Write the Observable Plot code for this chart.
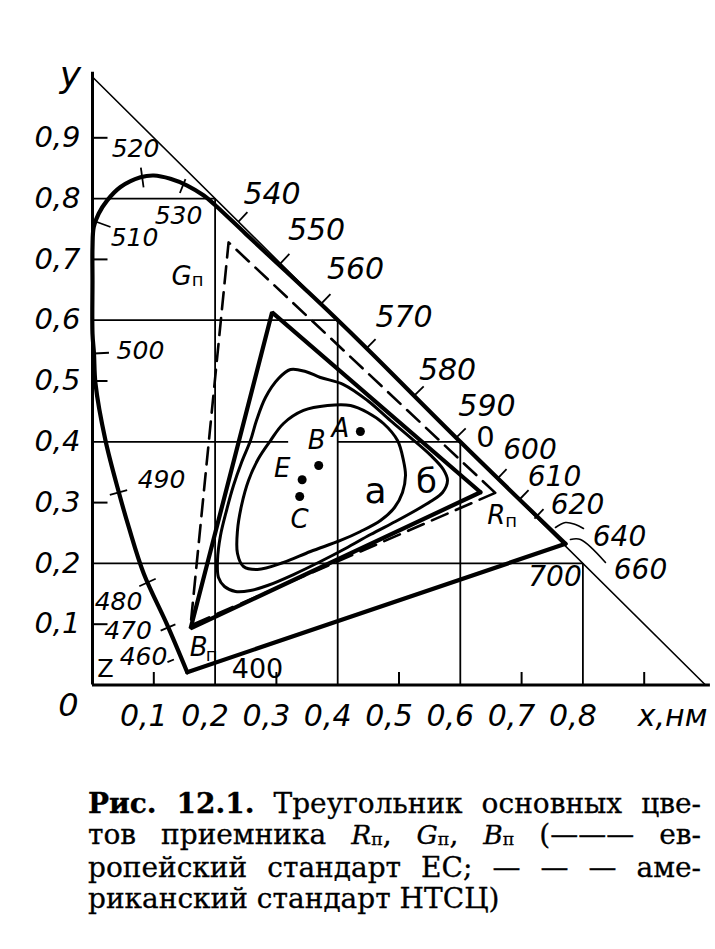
<!DOCTYPE html>
<html>
<head>
<meta charset="utf-8">
<script src="https://cdn.jsdelivr.net/npm/d3@7"></script>
<script src="https://cdn.jsdelivr.net/npm/@observablehq/plot@0.6"></script>
<style>
  html, body { margin: 0; padding: 0; background: #fff; }
  body { width: 715px; height: 949px; position: relative; overflow: hidden; }
  #chart { position: absolute; left: 0; top: 0; }
  #chart svg { display: block; }
  #caption {
    position: absolute; left: 88px; top: 789px; width: 613px;
    font-family: "DejaVu Serif", "Liberation Serif", serif;
    font-size: 28px; line-height: 30.5px; color: #000;
    -webkit-text-stroke: 0.3px #000;
  }
  #caption .ln { text-align: justify; text-align-last: justify; }
  #caption .last { text-align-last: left; }
  #caption .sb { font-size: 0.62em; position: relative; top: 0.08em; }
  #caption i { font-size: 0.95em; }
</style>
</head>
<body>
<div id="chart"></div>
<div id="caption">
  <div class="ln"><b>Рис. 12.1.</b> Треугольник основных цве-</div>
  <div class="ln">тов приемника <i>R</i><span class="sb">п</span>, <i>G</i><span class="sb">п</span>, <i>B</i><span class="sb">п</span> (——— ев-</div>
  <div class="ln">ропейский стандарт ЕС; — — — аме-</div>
  <div class="ln last">риканский стандарт НТСЦ)</div>
</div>
<script>
// ---------------- DATA (chromaticity coordinates) ----------------
const spectralLocus = [
  {x:0.1545,y:0.021},{x:0.1222,y:0.098},{x:0.0837,y:0.1829},{x:0.0592,y:0.2595},
  {x:0.0429,y:0.3171},{x:0.0212,y:0.4021},{x:0.0049,y:0.4954},{x:0.0024,y:0.5452},
  {x:0.0,y:0.578},{x:0.0,y:0.665},{x:0.0,y:0.72},{x:0.002,y:0.753},{x:0.010,y:0.775},
  {x:0.024,y:0.797},{x:0.0457,y:0.819},{x:0.0783,y:0.835},{x:0.100,y:0.838},
  {x:0.127,y:0.8326},{x:0.1545,y:0.8215},{x:0.1816,y:0.805},{x:0.2007,y:0.7887},
  {x:0.25,y:0.742},{x:0.30,y:0.695},{x:0.35,y:0.648},{x:0.394,y:0.606},
  {x:0.45,y:0.551},{x:0.60,y:0.40},{x:0.7716,y:0.2322}
];
// wavelength marks (nm) on the locus / on the x+y=1 line
const wavelengths = [
  {nm:460,x:0.1403,y:0.0452},{nm:470,x:0.1232,y:0.0946},{nm:480,x:0.0897,y:0.1686},
  {nm:490,x:0.0424,y:0.3166},{nm:500,x:0.0024,y:0.5452},{nm:510,x:0.0049,y:0.7623},
  {nm:520,x:0.0811,y:0.8347},{nm:530,x:0.1468,y:0.8199},{nm:540,x:0.2382,y:0.7623},
  {nm:550,x:0.3067,y:0.6933},{nm:560,x:0.3736,y:0.6275},{nm:570,x:0.4470,y:0.5535},
  {nm:580,x:0.5253,y:0.4762},{nm:590,x:0.5938,y:0.4071},{nm:600,x:0.6607,y:0.3396},
  {nm:610,x:0.6966,y:0.3051},{nm:620,x:0.7210,y:0.2738},{nm:640,x:0.7520,y:0.2475},
  {nm:660,x:0.7732,y:0.2344},{nm:700,x:0.7716,y:0.2322}
];
const ecPrimaries   = [{name:"R",x:0.633,y:0.317},{name:"G",x:0.293,y:0.613},{name:"B",x:0.160,y:0.093}];
const ntscPrimaries = [{name:"R",x:0.657,y:0.316},{name:"G",x:0.222,y:0.728},{name:"B",x:0.160,y:0.098}];
const illuminants = [
  {name:"A",x:0.437,y:0.417},{name:"B",x:0.369,y:0.361},
  {name:"E",x:0.342,y:0.3375},{name:"C",x:0.338,y:0.310}
];
const contourA = [
  [0.2904,0.4021],[0.3116,0.4301],[0.3442,0.4515],[0.3834,0.4597],[0.4209,0.4597],[0.4486,0.4482],
  [0.4747,0.4301],[0.4976,0.4021],[0.5073,0.3692],[0.5106,0.3446],[0.5057,0.3166],[0.4927,0.2919],
  [0.4698,0.2706],[0.4372,0.2525],[0.4046,0.2377],[0.3556,0.2196],[0.3116,0.2015],[0.2692,0.1900],
  [0.2463,0.1949],[0.2365,0.2163],[0.2365,0.2541],[0.2431,0.2952],[0.2545,0.3363],[0.2708,0.3725]
];
const contourB = [
  [0.2577,0.4021],[0.2675,0.4350],[0.2822,0.4729],[0.3034,0.5041],[0.3230,0.5189],[0.3475,0.5156],
  [0.3719,0.5058],[0.4095,0.4942],[0.4486,0.4680],[0.4861,0.4350],[0.5187,0.4070],[0.5514,0.3780],
  [0.5726,0.3540],[0.5791,0.3363],[0.5710,0.3166],[0.5514,0.3018],[0.5269,0.2870],[0.4943,0.2689],
  [0.4535,0.2475],[0.4127,0.2245],[0.3719,0.2031],[0.3279,0.1817],[0.2855,0.1636],[0.2577,0.1554],
  [0.2333,0.1538],[0.2153,0.1620],[0.2055,0.1768],[0.2039,0.2048],[0.2088,0.2459],[0.2186,0.2870],
  [0.2300,0.3281],[0.2431,0.3660]
];
const unitDiagonal = [{x:0,y:1},{x:1,y:0}];          // x + y = 1
const gridLevels = [0.2, 0.4, 0.6, 0.8];
const minorTicks = [0.1, 0.3, 0.5, 0.7, 0.9];
const yTickLabels = [0.1,0.2,0.3,0.4,0.5,0.6,0.7,0.8,0.9];
const xTickLabels = [0.1,0.2,0.3,0.4,0.5,0.6,0.7,0.8];
const annotations = [
  {text:"400", x:0.2692, y:0.0263, size:27},
  {text:"Z",   x:0.0212, y:0.0255, size:24, upright:true},
  {text:"0",   x:0.6411, y:0.4062, size:29},
  {text:"а",   x:0.4617, y:0.3183, size:36},
  {text:"б",   x:0.5449, y:0.3331, size:34}
];

// ---------------- LAYOUT / STYLE ----------------
const PX = {x0:92, x1:705, y0:684.5, y1:76.5};
const kx = PX.x1 - PX.x0, ky = PX.y0 - PX.y1;
const sx = v => PX.x0 + v*kx, sy = v => PX.y0 - v*ky;
const ox = p => p / kx, oy = p => -p / ky;   // pixel offset -> data offset
const FONT = "DejaVu Sans, sans-serif";

// label centre offsets (px) from wavelength point; tick reach (px) along outward normal
const labelOffset = {
  460:[-35,-1],470:[-40,4],480:[-29,19.5],490:[43,-12.5],500:[46.5,-2.5],510:[39,16.5],
  520:[-6.7,-28.5],530:[-4,29],540:[33.5,-27.5],550:[36,-33],560:[34,-34.5],570:[37.5,-31.5],
  580:[33,-25],590:[30.5,-31.5],600:[32.5,-28.5],610:[35,-22.5],620:[43,-13],640:[66,2.5],
  660:[74,28],700:[-10.5,33]
};
const labelSize = nm => nm < 540 ? 25 : nm < 600 ? 30 : 28;
const tickReach = {
  460:[5,12],470:[-8,8],480:[-9,9],490:[-9,9],500:[-15,0],510:[-16,0],520:[-10,10],530:[-7,8],
  540:[0,13],550:[0,13],560:[0,13],570:[0,13],580:[0,13],590:[0,13],600:[0,13],610:[0,13],620:[0,13]
};
const leaderPath = { 640:[[2,-7],[12,-12],[22,-10],[30,-6]], 660:[[4,-3],[14,-3],[39,20]] };
const hGap = {0.4:[0.32,0.40]};

const whitePt = illuminants.find(d => d.name === "E");
function outwardNormal(pt){
  let best = null, bd = Infinity;
  const px = sx(pt.x), py = sy(pt.y);
  for (let i = 0; i < spectralLocus.length - 1; i++){
    const a = spectralLocus[i], b = spectralLocus[i+1];
    const ax = sx(a.x), ay = sy(a.y), vx = sx(b.x)-ax, vy = sy(b.y)-ay;
    let t = ((px-ax)*vx + (py-ay)*vy) / (vx*vx + vy*vy);
    t = Math.max(0, Math.min(1, t));
    const d = (px-ax-t*vx)**2 + (py-ay-t*vy)**2;
    if (d < bd){ bd = d; best = [vx, vy]; }
  }
  const L = Math.hypot(best[0], best[1]);
  let nx = best[1]/L, ny = -best[0]/L;
  if ((px - sx(whitePt.x))*nx + (py - sy(whitePt.y))*ny < 0){ nx = -nx; ny = -ny; }
  return [nx, ny];
}

const tickSegs = wavelengths.filter(w => tickReach[w.nm]).map(w => {
  const [nx, ny] = outwardNormal(w), [a, b] = tickReach[w.nm];
  return {x1: w.x + ox(nx*a), y1: w.y + oy(ny*a), x2: w.x + ox(nx*b), y2: w.y + oy(ny*b)};
});
const leaders = wavelengths.filter(w => leaderPath[w.nm]).flatMap(w =>
  leaderPath[w.nm].map(([dx, dy]) => ({nm: w.nm, x: w.x + ox(dx), y: w.y + oy(dy)})));
const wlLabels = wavelengths.map(w => ({
  text: String(w.nm),
  x: w.x + ox(labelOffset[w.nm][0]), y: w.y + oy(labelOffset[w.nm][1]),
  size: labelSize(w.nm)
}));

const vGrid = gridLevels.map(v => ({x: v, y1: 0, y2: 1 - v}));
const hGrid = gridLevels.flatMap(v => {
  const g = hGap[v];
  return g ? [{y: v, x1: 0, x2: g[0]}, {y: v, x1: g[1], x2: 1 - v}] : [{y: v, x1: 0, x2: 1 - v}];
});

const pointLabelOff = {A:[-20,-3], B:[-2,-25], E:[-20,-11], C:[0,23.5]};
const illumLabels = illuminants.map(d => ({text: d.name,
  x: d.x + ox(pointLabelOff[d.name][0]), y: d.y + oy(pointLabelOff[d.name][1])}));

const primLabelOff = {
  R:{src: ntscPrimaries, main:[1,23], sub:[16,28]},
  G:{src: ntscPrimaries, main:[-47,34], sub:[-31,38]},
  B:{src: ecPrimaries,   main:[8,19], sub:[21,27]}
};
const primMain = [], primSub = [];
for (const k of ["R","G","B"]){
  const o = primLabelOff[k], p = o.src.find(d => d.name === k);
  primMain.push({text: k, x: p.x + ox(o.main[0]), y: p.y + oy(o.main[1])});
  primSub.push({text: "п", x: p.x + ox(o.sub[0]), y: p.y + oy(o.sub[1])});
}
const closed = arr => [...arr, arr[0]];
const fmt = v => v.toFixed(1).replace(".", ",");

const chart = Plot.plot({
  width: 715, height: 770,
  x: {domain: [0, 1], range: [PX.x0, PX.x1], axis: null},
  y: {domain: [0, 1], range: [PX.y0, PX.y1], axis: null},
  style: {background: "#fff", color: "#000"},
  marks: [
    // grid construction lines
    Plot.ruleX(vGrid, {x: "x", y1: "y1", y2: "y2", stroke: "#000", strokeWidth: 1.8}),
    Plot.ruleY(hGrid, {y: "y", x1: "x1", x2: "x2", stroke: "#000", strokeWidth: 1.8}),
    // x + y = 1
    Plot.line(unitDiagonal, {x: "x", y: "y", stroke: "#000", strokeWidth: 1.6}),
    // axes
    Plot.ruleX([0], {y1: () => 0, y2: () => 1.008, stroke: "#000", strokeWidth: 3}),
    Plot.ruleY([0], {x1: () => 0, x2: () => 1.008, stroke: "#000", strokeWidth: 3}),
    Plot.link(minorTicks, {x1: () => 0, x2: () => ox(15), y1: d => d, y2: d => d, stroke: "#000", strokeWidth: 2}),
    Plot.link(minorTicks, {x1: d => d, x2: d => d, y1: () => 0, y2: () => oy(-13), stroke: "#000", strokeWidth: 2}),
    Plot.text(yTickLabels, {x: () => 0, y: d => d, text: fmt, dx: -12, textAnchor: "end",
      fontSize: 29, fontStyle: "italic", fontFamily: FONT}),
    Plot.text(xTickLabels, {x: d => d, y: () => 0, text: fmt, dx: -10, dy: 31.5,
      fontSize: 30, fontStyle: "italic", fontFamily: FONT}),
    Plot.text(["0"], {x: () => 0, y: () => 0, text: d => d, dx: -24, dy: 20.5,
      fontSize: 32, fontStyle: "italic", fontFamily: FONT}),
    Plot.text(["y"], {x: () => 0, y: () => 1, text: d => d, dx: -22, dy: -1.5,
      fontSize: 36, fontStyle: "italic", fontFamily: FONT}),
    Plot.text(["x,нм"], {x: () => 1, y: () => 0, text: d => d, dx: -33, dy: 31.5,
      fontSize: 30, fontStyle: "italic", fontFamily: FONT}),
    // spectral locus and line of purples
    Plot.line(spectralLocus, {x: "x", y: "y", curve: "catmull-rom", stroke: "#000", strokeWidth: 4.2, strokeLinejoin: "round"}),
    Plot.line([spectralLocus[0], spectralLocus[spectralLocus.length - 1]], {x: "x", y: "y", stroke: "#000", strokeWidth: 4.2}),
    Plot.link(tickSegs, {x1: "x1", y1: "y1", x2: "x2", y2: "y2", stroke: "#000", strokeWidth: 1.8}),
    Plot.line(leaders, {x: "x", y: "y", z: "nm", curve: "catmull-rom", stroke: "#000", strokeWidth: 1.6}),
    Plot.text(wlLabels, {x: "x", y: "y", text: "text", fontSize: d => d.size, fontStyle: "italic", fontFamily: FONT}),
    // primaries triangles
    Plot.line(closed(ecPrimaries), {x: "x", y: "y", stroke: "#000", strokeWidth: 4.2, strokeLinejoin: "miter"}),
    Plot.line(closed(ntscPrimaries), {x: "x", y: "y", stroke: "#000", strokeWidth: 2.6, strokeDasharray: "17,9"}),
    Plot.text(primMain, {x: "x", y: "y", text: "text", fontSize: 26, fontStyle: "italic", fontFamily: FONT}),
    Plot.text(primSub, {x: "x", y: "y", text: "text", fontSize: 18, fontFamily: FONT}),
    // colour-tolerance contours
    Plot.line(contourA, {x: d => d[0], y: d => d[1], curve: "catmull-rom-closed", stroke: "#000", strokeWidth: 3}),
    Plot.line(contourB, {x: d => d[0], y: d => d[1], curve: "catmull-rom-closed", stroke: "#000", strokeWidth: 3}),
    // standard illuminants
    Plot.dot(illuminants, {x: "x", y: "y", r: 4.5, fill: "#000", stroke: null}),
    Plot.text(illumLabels, {x: "x", y: "y", text: "text", fontSize: 26, fontStyle: "italic", fontFamily: FONT}),
    // other annotations
    Plot.text(annotations, {x: "x", y: "y", text: "text", fontSize: d => d.size,
      fontStyle: d => d.upright ? "normal" : "italic", fontFamily: FONT})
  ]
});
document.getElementById("chart").append(chart);
</script>
</body>
</html>
